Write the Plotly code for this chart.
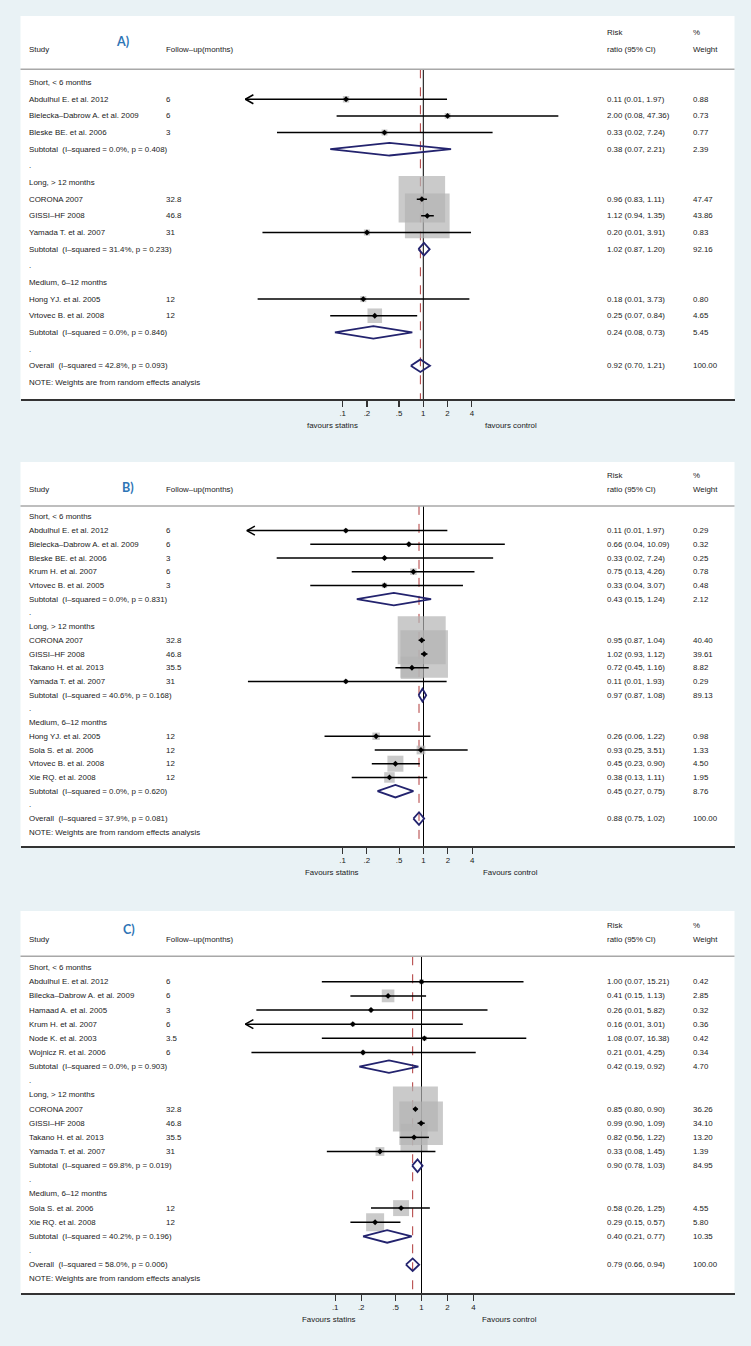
import math

import plotly.graph_objects as go

W, H = 751, 1346

TICK_VALS = [0.1, 0.2, 0.5, 1, 2, 4]
TICK_TEXT = [".1", ".2", ".5", "1", "2", "4"]

# ---------------- Panel A ----------------
A_LABELS = [
    "Short, < 6 months",
    "Abdulhul E. et al. 2012",
    "Bielecka–Dabrow A. et al. 2009",
    "Bleske BE. et al. 2006",
    "Subtotal  (I–squared = 0.0%, p = 0.408)",
    ".",
    "Long, > 12 months",
    "CORONA 2007",
    "GISSI–HF 2008",
    "Yamada T. et al. 2007",
    "Subtotal  (I–squared = 31.4%, p = 0.233)",
    ".",
    "Medium, 6–12 months",
    "Hong YJ. et al. 2005",
    "Vrtovec B. et al. 2008",
    "Subtotal  (I–squared = 0.0%, p = 0.846)",
    ".",
    "Overall  (I–squared = 42.8%, p = 0.093)",
]
A_KIND = ["head", "study", "study", "study", "sub", "gap",
          "head", "study", "study", "study", "sub", "gap",
          "head", "study", "study", "sub", "gap", "sub"]
A_FOLLOWUP = ["", "6", "6", "3", "", "", "", "32.8", "46.8", "31", "", "",
              "", "12", "12", "", "", ""]
A_RR = [None, 0.11, 2.00, 0.33, 0.38, None, None, 0.96, 1.12, 0.20, 1.02, None,
        None, 0.18, 0.25, 0.24, None, 0.92]
A_LO = [None, 0.0055, 0.084, 0.0153, 0.07, None, None, 0.83, 0.94, 0.0101, 0.87, None,
        None, 0.0088, 0.07, 0.08, None, 0.70]
A_HI = [None, 1.97, 47.36, 7.24, 2.21, None, None, 1.11, 1.35, 3.91, 1.20, None,
        None, 3.73, 0.84, 0.73, None, 1.21]
A_WEIGHT = [None, 0.88, 0.73, 0.77, 2.39, None, None, 47.47, 43.86, 0.83, 92.16, None,
            None, 0.80, 4.65, 5.45, None, 100.00]

# ---------------- Panel B ----------------
B_LABELS = [
    "Short, < 6 months",
    "Abdulhul E. et al. 2012",
    "Bielecka–Dabrow A. et al. 2009",
    "Bleske BE. et al. 2006",
    "Krum H. et al. 2007",
    "Vrtovec B. et al. 2005",
    "Subtotal  (I–squared = 0.0%, p = 0.831)",
    ".",
    "Long, > 12 months",
    "CORONA 2007",
    "GISSI–HF 2008",
    "Takano H. et al. 2013",
    "Yamada T. et al. 2007",
    "Subtotal  (I–squared = 40.6%, p = 0.168)",
    ".",
    "Medium, 6–12 months",
    "Hong YJ. et al. 2005",
    "Sola S. et al. 2006",
    "Vrtovec B. et al. 2008",
    "Xie RQ. et al. 2008",
    "Subtotal  (I–squared = 0.0%, p = 0.620)",
    ".",
    "Overall  (I–squared = 37.9%, p = 0.081)",
]
B_KIND = ["head", "study", "study", "study", "study", "study", "sub", "gap",
          "head", "study", "study", "study", "study", "sub", "gap",
          "head", "study", "study", "study", "study", "sub", "gap", "sub"]
B_FOLLOWUP = ["", "6", "6", "3", "6", "3", "", "",
              "", "32.8", "46.8", "35.5", "31", "", "",
              "", "12", "12", "12", "12", "", "", ""]
B_RR = [None, 0.11, 0.66, 0.33, 0.75, 0.33, 0.43, None,
        None, 0.95, 1.02, 0.72, 0.11, 0.97, None,
        None, 0.26, 0.93, 0.45, 0.38, 0.45, None, 0.88]
B_LO = [None, 0.0055, 0.04, 0.0154, 0.13, 0.04, 0.15, None,
        None, 0.87, 0.93, 0.45, 0.0068, 0.87, None,
        None, 0.06, 0.25, 0.23, 0.13, 0.27, None, 0.75]
B_HI = [None, 1.97, 10.09, 7.24, 4.26, 3.07, 1.24, None,
        None, 1.04, 1.12, 1.16, 1.93, 1.08, None,
        None, 1.22, 3.51, 0.90, 1.11, 0.75, None, 1.02]
B_WEIGHT = [None, 0.29, 0.32, 0.25, 0.78, 0.48, 2.12, None,
            None, 40.40, 39.61, 8.82, 0.29, 89.13, None,
            None, 0.98, 1.33, 4.50, 1.95, 8.76, None, 100.00]

# ---------------- Panel C ----------------
C_LABELS = [
    "Short, < 6 months",
    "Abdulhul E. et al. 2012",
    "Bilecka–Dabrow A. et al. 2009",
    "Hamaad A. et al. 2005",
    "Krum H. et al. 2007",
    "Node K. et al. 2003",
    "Wojnicz R. et al. 2006",
    "Subtotal  (I–squared = 0.0%, p = 0.903)",
    ".",
    "Long, > 12 months",
    "CORONA 2007",
    "GISSI–HF 2008",
    "Takano H. et al. 2013",
    "Yamada T. et al. 2007",
    "Subtotal  (I–squared = 69.8%, p = 0.019)",
    ".",
    "Medium, 6–12 months",
    "Sola S. et al. 2006",
    "Xie RQ. et al. 2008",
    "Subtotal  (I–squared = 40.2%, p = 0.196)",
    ".",
    "Overall  (I–squared = 58.0%, p = 0.006)",
]
C_KIND = ["head", "study", "study", "study", "study", "study", "study", "sub", "gap",
          "head", "study", "study", "study", "study", "sub", "gap",
          "head", "study", "study", "sub", "gap", "sub"]
C_FOLLOWUP = ["", "6", "6", "3", "6", "3.5", "6", "", "",
              "", "32.8", "46.8", "35.5", "31", "", "",
              "", "12", "12", "", "", ""]
C_RR = [None, 1.00, 0.41, 0.26, 0.16, 1.08, 0.21, 0.42, None,
        None, 0.85, 0.99, 0.82, 0.33, 0.90, None,
        None, 0.58, 0.29, 0.40, None, 0.79]
C_LO = [None, 0.07, 0.15, 0.0122, 0.006, 0.07, 0.0107, 0.19, None,
        None, 0.80, 0.90, 0.56, 0.08, 0.78, None,
        None, 0.26, 0.15, 0.21, None, 0.66]
C_HI = [None, 15.21, 1.13, 5.82, 3.01, 16.38, 4.25, 0.92, None,
        None, 0.90, 1.09, 1.22, 1.45, 1.03, None,
        None, 1.25, 0.57, 0.77, None, 0.94]
C_WEIGHT = [None, 0.42, 2.85, 0.32, 0.36, 0.42, 0.34, 4.70, None,
            None, 36.26, 34.10, 13.20, 1.39, 84.95, None,
            None, 4.55, 5.80, 10.35, None, 100.00]

# layout of each panel (pixels in the 751 x 1346 page)
PANELS = [
    dict(letter="A)", letter_xy=(122, 41), top=16, axis=399, null_px=423.3, decade=80.6,
         box_max=46.5, clip=0.0062, foot=("favours statins", "favours control"),
         foot_x=(332, 511),
         labels=A_LABELS, kind=A_KIND, follow=A_FOLLOWUP, rr=A_RR, lo=A_LO, hi=A_HI, w=A_WEIGHT),
    dict(letter="B)", letter_xy=(128, 487), top=462, axis=846, null_px=423.5, decade=81.0,
         box_max=48, clip=0.0066, foot=("Favours statins", "Favours control"),
         foot_x=(332, 511),
         labels=B_LABELS, kind=B_KIND, follow=B_FOLLOWUP, rr=B_RR, lo=B_LO, hi=B_HI, w=B_WEIGHT),
    dict(letter="C)", letter_xy=(129, 929), top=911, axis=1293, null_px=421.5, decade=86.3,
         box_max=45, clip=0.0091, foot=("Favours statins", "Favours control"),
         foot_x=(329, 509),
         labels=C_LABELS, kind=C_KIND, follow=C_FOLLOWUP, rr=C_RR, lo=C_LO, hi=C_HI, w=C_WEIGHT),
]

PANEL_L, PANEL_R = 20.5, 734.5
COL_STUDY, COL_FOLLOW, COL_ES, COL_W = 27, 164, 605, 691
FONT = "Liberation Sans, Arial, sans-serif"
FS = 7.9
TXT = "#1a1a1a"
NAVY = "#23236e"
BOX_GRAY = "#b4b4b4"
BG = "#e9f2f5"

fig = go.Figure()
annotations = []
shapes = []
axes = {}


def note(x, y, text, yref, xanchor="left", size=FS, color=TXT, family=FONT):
    annotations.append(dict(
        x=x, y=y, xref="paper", yref=yref, text=text, showarrow=False,
        xanchor=xanchor, yanchor="middle", font=dict(family=family, size=size, color=color),
    ))


for i, p in enumerate(PANELS, start=1):
    xa = "x" if i == 1 else f"x{i}"
    ya = "y" if i == 1 else f"y{i}"
    n = len(p["labels"])
    bottom_row = n + 1
    row_px = (p["axis"] - p["top"]) / (bottom_row + 4)

    axes["xaxis" if i == 1 else f"xaxis{i}"] = dict(
        type="log", domain=[PANEL_L / W, PANEL_R / W], anchor=ya,
        range=[(PANEL_L - p["null_px"]) / p["decade"], (PANEL_R - p["null_px"]) / p["decade"]],
        tickvals=TICK_VALS, ticktext=TICK_TEXT, ticks="outside", ticklen=6, tickwidth=1.2,
        tickcolor="#333333", showline=True, linecolor="#333333", linewidth=1.5,
        showgrid=False, zeroline=False, tickfont=dict(family=FONT, size=FS, color=TXT),
        fixedrange=True,
    )
    axes["yaxis" if i == 1 else f"yaxis{i}"] = dict(
        domain=[1 - p["axis"] / H, 1 - p["top"] / H], anchor=xa,
        range=[bottom_row, -4], visible=False, fixedrange=True,
    )

    study = [r for r, k in enumerate(p["kind"]) if k == "study"]
    subs = [r for r, k in enumerate(p["kind"]) if k == "sub"]
    wmax = max(p["w"][r] for r in study)

    # weight boxes
    fig.add_trace(go.Scatter(
        x=[p["rr"][r] for r in study], y=study, mode="markers", xaxis=xa, yaxis=ya,
        marker=dict(symbol="square", color=BOX_GRAY, line=dict(width=0),
                    size=[p["box_max"] * math.sqrt(p["w"][r] / wmax) for r in study]),
        hoverinfo="skip",
    ))

    # confidence intervals (+ arrows where truncated)
    cx, cy = [], []
    ax_, ay_ = [], []
    for r in study:
        lo = max(p["lo"][r], p["clip"])
        cx += [lo, p["hi"][r], None]
        cy += [r, r, None]
        if p["lo"][r] < p["clip"]:
            arm = p["clip"] * 10 ** (8 / p["decade"])
            dy = 4.5 / row_px
            ax_ += [arm, p["clip"], arm, None]
            ay_ += [r - dy, r, r + dy, None]
    fig.add_trace(go.Scatter(x=cx, y=cy, mode="lines", xaxis=xa, yaxis=ya,
                             line=dict(color="black", width=1.5), hoverinfo="skip"))
    if ax_:
        fig.add_trace(go.Scatter(x=ax_, y=ay_, mode="lines", xaxis=xa, yaxis=ya,
                                 line=dict(color="black", width=1.5), hoverinfo="skip"))

    # point estimates
    fig.add_trace(go.Scatter(
        x=[p["rr"][r] for r in study], y=study, mode="markers", xaxis=xa, yaxis=ya,
        marker=dict(symbol="diamond", color="black", size=4.5), hoverinfo="skip",
    ))

    # pooled diamonds
    dh = 6.3 / row_px
    dx, dyy = [], []
    for r in subs:
        dx += [p["lo"][r], p["rr"][r], p["hi"][r], p["rr"][r], p["lo"][r], None]
        dyy += [r, r - dh, r, r + dh, r, None]
    fig.add_trace(go.Scatter(x=dx, y=dyy, mode="lines", xaxis=xa, yaxis=ya,
                             line=dict(color=NAVY, width=1.8), hoverinfo="skip"))

    # reference lines
    overall = p["rr"][subs[-1]]
    shapes.append(dict(type="line", xref=xa, yref=ya, x0=1, x1=1, y0=-0.8, y1=bottom_row,
                       line=dict(color="black", width=1), layer="below"))
    shapes.append(dict(type="line", xref=xa, yref=ya, x0=overall, x1=overall, y0=-0.8,
                       y1=bottom_row, line=dict(color="#b03a3a", width=1, dash="dash"),
                       layer="below"))
    shapes.append(dict(type="line", xref="paper", yref=ya, x0=PANEL_L / W, x1=PANEL_R / W,
                       y0=-0.8, y1=-0.8, line=dict(color="#a8a8a8", width=1.5)))

    # headers
    note(COL_STUDY / W, -2, "Study", ya)
    note(COL_FOLLOW / W, -2, "Follow–up(months)", ya)
    note(COL_ES / W, -3, "Risk", ya)
    note(COL_ES / W, -2, "ratio (95% CI)", ya)
    note(COL_W / W, -3, "%", ya)
    note(COL_W / W, -2, "Weight", ya)
    lx, ly = p["letter_xy"]
    annotations.append(dict(
        x=lx / W, y=1 - ly / H, xref="paper", yref="paper", text=p["letter"], showarrow=False,
        xanchor="center", yanchor="middle",
        font=dict(family="Lato, sans-serif", size=12.5, color="#2e75b6", weight="bold"),
    ))

    # table text
    for r, lab in enumerate(p["labels"]):
        note(COL_STUDY / W, r, lab, ya)
        if p["follow"][r]:
            note(COL_FOLLOW / W, r, p["follow"][r], ya)
        if p["rr"][r] is not None:
            note(COL_ES / W, r, f"{p['rr'][r]:.2f} ({p['lo'][r]:.2f}, {p['hi'][r]:.2f})", ya)
            note(COL_W / W, r, f"{p['w'][r]:.2f}", ya)
    note(COL_STUDY / W, n, "NOTE: Weights are from random effects analysis", ya)

    # favours labels
    fy = 1 - (p["axis"] + 26) / H
    note(p["foot_x"][0] / W, fy, p["foot"][0], "paper", xanchor="center")
    note(p["foot_x"][1] / W, fy, p["foot"][1], "paper", xanchor="center")

fig.update_layout(
    width=W, height=H, autosize=False,
    margin=dict(l=0, r=0, t=0, b=0),
    paper_bgcolor=BG, plot_bgcolor="white",
    showlegend=False, annotations=annotations, shapes=shapes,
    **axes,
)

fig.write_html(
    "out.html",
    config={"displayModeBar": False, "staticPlot": True},
    post_script=(
        "document.body.style.margin='0px';"
        "document.body.style.padding='0px';"
        f"document.body.style.background='{BG}';"
        "document.body.style.overflow='hidden';"
    ),
)
